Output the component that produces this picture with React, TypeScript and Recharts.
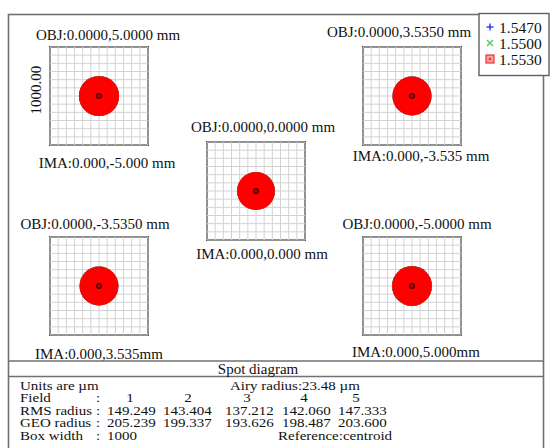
import React from "react";
import { ScatterChart, Scatter, XAxis, YAxis, ReferenceLine, ReferenceArea } from "recharts";

// ---------- data ----------
const fieldNumbers = [1, 2, 3, 4, 5];
const objLabels = [
  "OBJ:0.0000,5.0000 mm",
  "OBJ:0.0000,3.5350 mm",
  "OBJ:0.0000,0.0000 mm",
  "OBJ:0.0000,-3.5350 mm",
  "OBJ:0.0000,-5.0000 mm",
];
const imaLabels = [
  "IMA:0.000,-5.000 mm",
  "IMA:0.000,-3.535 mm",
  "IMA:0.000,0.000 mm",
  "IMA:0.000,3.535mm",
  "IMA:0.000,5.000mm",
];
const rmsRadius = [149.249, 143.404, 137.212, 142.06, 147.333];
const geoRadius = [205.239, 199.337, 193.626, 198.487, 203.6];
const centroidX = [0, 0, 0, 0, 0];
const centroidY = [0, 0, 0, 0, 0];
const wavelengths = ["1.5470", "1.5500", "1.5530"];
const wavelengthColors = ["#2233ff", "#55cc55", "#ff0000"];
const boxWidth = 1000;
const airyRadius = 23.48;
const boxLabel = "1000.00";

// ---------- layout ----------
const BOX = 98;
const PAD = 2;
const panels = [
  { x: 50, y: 47, objX: 108, objY: 35, imaX: 107, imaY: 163 },
  { x: 363, y: 47, objX: 399, objY: 32, imaX: 421, imaY: 156 },
  { x: 207, y: 142, objX: 263, objY: 127, imaX: 262, imaY: 254 },
  { x: 50, y: 237, objX: 95, objY: 224, imaX: 99, imaY: 354 },
  { x: 363, y: 237, objX: 417, objY: 224, imaX: 416, imaY: 352 },
];
const colStarts = [107, 163, 225, 282, 338];
const fieldNumX = [130, 188, 247, 304, 356];
const rowY = { units: 386, field: 398.5, rms: 411, geo: 423.5, box: 436 };

const FONT = "'Liberation Serif', 'Times New Roman', serif";
const half = boxWidth / 2;
const gridTicks = Array.from({ length: 13 }, (_, i) => -half + (i * boxWidth) / 12);
const pxPerUm = BOX / boxWidth;

const SpotShape = (props: any) => {
  const { cx, cy, payload, fill } = props;
  const r = payload.geo * pxPerUm;
  return (
    <g>
      <circle cx={cx} cy={cy} r={r} fill={fill} />
      <circle cx={cx} cy={cy} r={2.4} fill="#c00000" stroke="#400000" strokeWidth={1.2} />
    </g>
  );
};

function Panel({ idx }: { idx: number }) {
  const p = panels[idx];
  const data = [{ x: centroidX[idx], y: centroidY[idx], geo: geoRadius[idx] }];
  return (
    <div style={{ position: "absolute", left: p.x - PAD, top: p.y - PAD }}>
      <ScatterChart
        width={BOX + 2 * PAD}
        height={BOX + 2 * PAD}
        margin={{ top: PAD, right: PAD, bottom: PAD, left: PAD }}
      >
        <XAxis type="number" dataKey="x" domain={[-half, half]} hide allowDataOverflow />
        <YAxis type="number" dataKey="y" domain={[-half, half]} hide allowDataOverflow />
        {gridTicks.map((g) => (
          <ReferenceLine key={`vx${g}`} x={g} stroke="#d2d2d2" strokeWidth={1} ifOverflow="visible" />
        ))}
        {gridTicks.map((g) => (
          <ReferenceLine key={`hy${g}`} y={g} stroke="#d2d2d2" strokeWidth={1} ifOverflow="visible" />
        ))}
        {wavelengths.map((w, i) => (
          <Scatter
            key={w}
            name={w}
            data={data}
            fill={wavelengthColors[i]}
            shape={<SpotShape />}
            isAnimationActive={false}
          />
        ))}
        <ReferenceArea
          x1={-half}
          x2={half}
          y1={-half}
          y2={half}
          fill="none"
          fillOpacity={0}
          stroke="#505050"
          strokeWidth={2}
          ifOverflow="visible"
        />
      </ScatterChart>
    </div>
  );
}

const TT = ({ x, y, children, anchor = "start" }: any) => (
  <text
    transform={`translate(${x} ${y}) scale(1 0.8)`}
    x={0}
    y={0}
    textAnchor={anchor}
    dominantBaseline="central"
    fontFamily={FONT}
    fontSize={15}
    fill="#111"
  >
    {children}
  </text>
);

export default function App() {
  const t = { fontFamily: FONT, fontSize: 15, fill: "#111" } as const;
  return (
    <div style={{ position: "absolute", left: 0, top: 0, width: 550, height: 448, background: "#fff", overflow: "hidden" }}>
      {panels.map((_, i) => (
        <Panel key={i} idx={i} />
      ))}
      <svg width={550} height={448} style={{ position: "absolute", left: 0, top: 0, pointerEvents: "none" }}>
        {/* frame */}
        <rect x={8.5} y={14.5} width={535} height={450} fill="none" stroke="#707070" strokeWidth={1.6} />
        <line x1={8} x2={544} y1={361} y2={361} stroke="#707070" strokeWidth={1.6} />
        <line x1={8} x2={544} y1={376.5} y2={376.5} stroke="#707070" strokeWidth={1.6} />

        {/* panel labels */}
        {panels.map((p, i) => (
          <g key={i}>
            <text x={p.objX} y={p.objY} textAnchor="middle" dominantBaseline="central" {...t}>
              {objLabels[i]}
            </text>
            <text x={p.imaX} y={p.imaY} textAnchor="middle" dominantBaseline="central" {...t}>
              {imaLabels[i]}
            </text>
          </g>
        ))}
        <text
          x={36}
          y={90}
          textAnchor="middle"
          dominantBaseline="central"
          transform="rotate(-90 36 90)"
          {...t}
        >
          {boxLabel}
        </text>

        {/* legend */}
        <rect x={479} y={13.5} width={70} height={62} fill="#fff" stroke="#606060" strokeWidth={1.4} />
        {wavelengths.map((w, i) => {
          const y = 27 + i * 16;
          return (
            <g key={w}>
              {i === 0 && (
                <g stroke={wavelengthColors[0]} strokeWidth={1.4}>
                  <line x1={486.5} x2={493.5} y1={y} y2={y} />
                  <line x1={490} x2={490} y1={y - 3.5} y2={y + 3.5} />
                </g>
              )}
              {i === 1 && (
                <g stroke={wavelengthColors[1]} strokeWidth={1.4}>
                  <line x1={487} x2={493} y1={y - 3} y2={y + 3} />
                  <line x1={487} x2={493} y1={y + 3} y2={y - 3} />
                </g>
              )}
              {i === 2 && (
                <g>
                  <rect x={486} y={y - 4} width={8} height={8} fill="#f7a0a0" stroke="#ee3030" strokeWidth={1.2} />
                  <circle cx={490} cy={y} r={1.3} fill="#ee3030" />
                </g>
              )}
              <text x={499} y={y} dominantBaseline="central" {...t} fontSize={15.5}>
                {w}
              </text>
            </g>
          );
        })}

        {/* title */}
        <text x={258} y={368.5} textAnchor="middle" dominantBaseline="central" {...t}>
          Spot diagram
        </text>

        {/* summary table */}
        <TT x={20} y={rowY.units}>Units are µm</TT>
        <TT x={230} y={rowY.units}>{`Airy radius:${airyRadius.toFixed(2)} µm`}</TT>

        <TT x={20} y={rowY.field}>Field</TT>
        <TT x={96} y={rowY.field}>:</TT>
        {fieldNumbers.map((f, i) => (
          <TT key={f} x={fieldNumX[i]} y={rowY.field} anchor="middle">
            {f}
          </TT>
        ))}

        <TT x={20} y={rowY.rms}>RMS radius</TT>
        <TT x={96} y={rowY.rms}>:</TT>
        {rmsRadius.map((v, i) => (
          <TT key={i} x={colStarts[i]} y={rowY.rms}>
            {v.toFixed(3)}
          </TT>
        ))}

        <TT x={20} y={rowY.geo}>GEO radius</TT>
        <TT x={96} y={rowY.geo}>:</TT>
        {geoRadius.map((v, i) => (
          <TT key={i} x={colStarts[i]} y={rowY.geo}>
            {v.toFixed(3)}
          </TT>
        ))}

        <TT x={20} y={rowY.box}>Box width</TT>
        <TT x={96} y={rowY.box}>:</TT>
        <TT x={colStarts[0]} y={rowY.box}>{boxWidth}</TT>
        <TT x={278} y={rowY.box}>Reference:centroid</TT>
      </svg>
    </div>
  );
}
